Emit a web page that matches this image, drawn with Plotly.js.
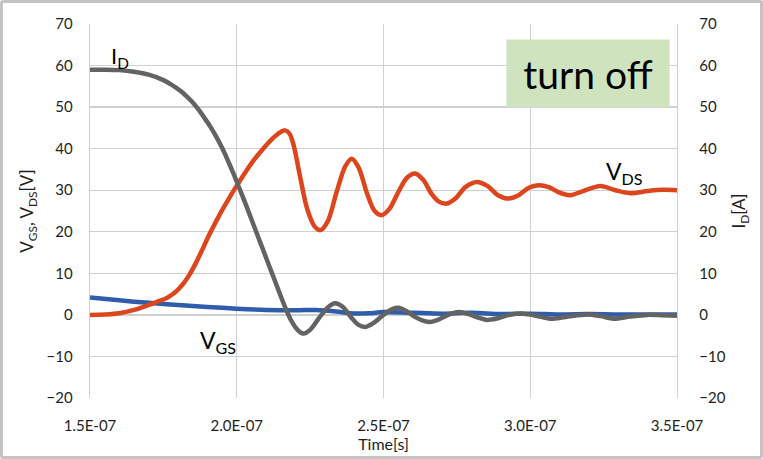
<!DOCTYPE html>
<html>
<head>
<meta charset="utf-8">
<script src="https://cdn.plot.ly/plotly-3.0.1.min.js"></script>
<style>
  html, body { margin: 0; padding: 0; background: #fff; }
  #wrap { position: relative; width: 763px; height: 459px; }
  #chart { width: 763px; height: 459px; }
  #frame { position: absolute; left: 0; top: 0; width: 763px; height: 459px; box-sizing: border-box;
           border: 3px solid #c4c4c4; border-radius: 3px; pointer-events: none; }
</style>
</head>
<body>
<div id="wrap"><div id="chart"></div><div id="frame"></div></div>
<script>
// Time in ns (converted to seconds for plotting)
const vdsTimeNs = [150,155,160,165,170,173,176,178,180,182,184,186,188,190,192,194,196,198,200,203,206,209,212,214.5,216.5,218,219.5,221.6,224,226.5,228.5,231,234,237,239.2,241.5,244.5,247,249.4,252,255,258,260.8,263.5,266.5,269,271.6,274.5,278,281.8,285.5,289,292.6,296,299.5,302.8,306.5,310,313.6,318,323.9,329,334,340,345,350];
const vdsValues  = [0,0.1,0.4,1.2,2.4,3.2,4.0,4.9,6.1,7.7,9.8,12.4,15.3,18.4,21.2,23.9,26.4,28.8,31.1,34.4,37.4,40.0,42.3,43.8,44.4,43.6,40.5,33.2,25.5,21.3,20.4,22.5,29.5,35.8,37.6,35.5,29,25,24,25.5,29.5,33,34,32.5,29,27.2,26.8,28,30.8,32,31,28.8,28,28.8,30.6,31.2,30.7,29.4,28.8,29.8,31,30,29.3,29.8,30.1,30];

const idTimeNs = [150,155,160,165,170,175,178,181,183,185,187,189,191,193,195,197,199,201,203,205,207,209,211,213,215,217,218.5,220,221.5,222.7,225,228,231,233.5,236,239,241.5,243.8,246.5,250,253,255.1,258,261,264,265.9,268.5,272,275.6,279,282,285.3,289,293,297.7,302,306.8,312,319.3,324,328.4,334,339.8,345,350];
const idValues  = [59,59,58.9,58.5,57.8,56.5,55.3,53.8,52.5,51.1,49.4,47.4,45.3,42.9,40.2,37.1,33.8,30.3,26.7,23.0,19.3,15.6,11.9,8.2,4.5,1.0,-1.3,-3,-4.1,-4.5,-3.6,-0.8,1.8,2.8,2,-0.6,-2.4,-2.9,-2,0,1.4,1.7,0.8,-0.6,-1.5,-1.7,-1.2,0,0.7,0.2,-0.6,-1.2,-0.8,0,0.3,-0.2,-0.9,-0.5,0.1,-0.3,-0.9,-0.4,0,-0.1,-0.2];

const vgsTimeNs = [150,160,170,180,190,200,210,220,227,233,238.6,245,250,260,270,280,290,300,310,320,330,340,350];
const vgsValues = [4.2,3.5,2.9,2.4,1.9,1.5,1.2,1.1,1.2,0.9,0.4,0.4,0.7,0.5,0.3,0.5,0.2,0.3,0.1,0.2,0.1,0.1,0.1];

const xTickVals = [1.5e-7, 2.0e-7, 2.5e-7, 3.0e-7, 3.5e-7];
const xTickText = ["1.5E-07", "2.0E-07", "2.5E-07", "3.0E-07", "3.5E-07"];

const toSec = a => a.map(t => t * 1e-9);

const FONT = "Lato, 'Open Sans', sans-serif";
const TXT = "#1e1e1e";
const GRID = "#d0d0d0";

const traces = [
  { x: toSec(vgsTimeNs), y: vgsValues, name: "VGS", type: "scatter", mode: "lines",
    line: { color: "#2f5cab", width: 4.5, shape: "spline", smoothing: 0.9 }, yaxis: "y" },
  { x: toSec(vdsTimeNs), y: vdsValues, name: "VDS", type: "scatter", mode: "lines",
    line: { color: "#dd461d", width: 4.5, shape: "spline", smoothing: 0.9 }, yaxis: "y" },
  { x: toSec(idTimeNs), y: idValues, name: "ID", type: "scatter", mode: "lines",
    line: { color: "#636363", width: 4.5, shape: "spline", smoothing: 0.9 }, yaxis: "y2" }
];

const layout = {
  width: 763, height: 459,
  margin: { l: 90, r: 86, t: 24, b: 61, pad: 0 },
  paper_bgcolor: "#ffffff", plot_bgcolor: "#ffffff",
  showlegend: false,
  font: { family: FONT, size: 15, color: TXT },
  xaxis: {
    range: [1.5e-7, 3.5e-7], tickvals: xTickVals, ticktext: xTickText,
    showgrid: true, gridcolor: GRID, gridwidth: 1.3, zeroline: false,
    showline: false, ticks: "", ticklabelstandoff: 17,
    tickfont: { family: FONT, size: 15, color: TXT },
    title: { text: "Time[s]", font: { family: FONT, size: 16, color: TXT }, standoff: 5 }
  },
  yaxis: {
    range: [-20, 70], dtick: 10, tick0: 0,
    showgrid: true, gridcolor: GRID, gridwidth: 1.3, zeroline: false,
    showline: true, linecolor: GRID, linewidth: 1.3, mirror: false,
    ticks: "", ticklabelstandoff: 13,
    tickfont: { family: FONT, size: 15, color: TXT },
    title: { text: "V<sub>GS</sub>, V<sub>DS</sub>[V]", font: { family: FONT, size: 17, color: TXT }, standoff: 8 }
  },
  yaxis2: {
    range: [-20, 70], dtick: 10, tick0: 0, overlaying: "y", side: "right",
    showgrid: false, zeroline: false, showline: true, linecolor: GRID, linewidth: 1.3,
    ticks: "", ticklabelstandoff: 18,
    tickfont: { family: FONT, size: 15, color: TXT },
    title: { text: "I<sub>D</sub>[A]", font: { family: FONT, size: 17, color: TXT }, standoff: 8 }
  },
  annotations: [
    { x: 160.3e-9, y: 62, xref: "x", yref: "y", text: "I<sub>D</sub>", showarrow: false,
      font: { family: FONT, size: 22, color: "#000" } },
    { x: 193.5e-9, y: -6.5, xref: "x", yref: "y", text: "V<sub>GS</sub>", showarrow: false,
      font: { family: FONT, size: 23, color: "#000" } },
    { x: 332e-9, y: 34.3, xref: "x", yref: "y", text: "V<sub>DS</sub>", showarrow: false,
      font: { family: FONT, size: 23, color: "#000" } },
    { x: 319.8e-9, y: 58.1, xref: "x", yref: "y", text: "turn off", showarrow: false,
      width: 162, height: 67, bgcolor: "#cfe3bf", borderpad: 0,
      font: { family: FONT, size: 39, color: "#000" } }
  ]
};

Plotly.newPlot("chart", traces, layout, { staticPlot: true, displayModeBar: false });
</script>
</body>
</html>
